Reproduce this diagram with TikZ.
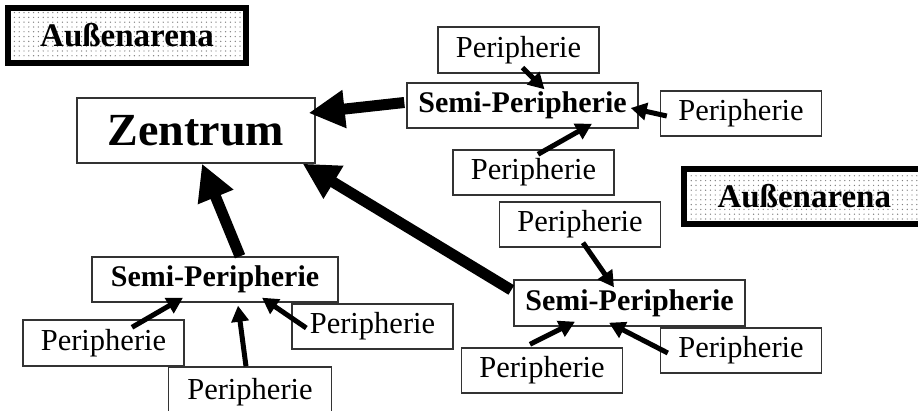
\documentclass[tikz,border=0pt]{standalone}
\usepackage{fontspec}
\setmainfont{Liberation Serif}
\usetikzlibrary{arrows.meta,calc,patterns.meta}
\begin{document}
\begin{tikzpicture}[x=1pt,y=-1pt,
  box/.style={draw=black!80, line width=1.4pt, inner sep=0pt, fill=white},
  per/.style={box, minimum width=161pt, minimum height=45pt, font=\fontsize{30.5}{30.5}\selectfont},
  semi/.style={box, minimum width=231pt, minimum height=45pt, font=\bfseries\fontsize{30}{30}\selectfont},
  aussen/.style={draw=black, line width=6pt, inner sep=0pt, minimum height=55pt,
    preaction={fill=white}, pattern={Dots[distance=4.8pt,radius=0.7pt]}, pattern color=black!50,
    font=\bfseries\fontsize{33}{33}\selectfont},
  big/.style={line width=11pt, -{Triangle[length=36pt,width=36pt]}},
  small/.style={line width=5pt, -{Triangle[length=16pt,width=17pt]}}]
\useasboundingbox (0,0) rectangle (918,411);

% Aussenarena boxes
\node[aussen, minimum width=238pt] (aus1) at (127,35.5) {Außenarena};
\node[aussen, minimum width=250pt, text width=230pt, align=left] (aus2) at (808.5,196.5) {\hspace*{24pt}Außenarena};

% Zentrum
\node[box, minimum width=238pt, minimum height=65pt, font=\bfseries\fontsize{46}{46}\selectfont] (zent) at (196,130.5) {Zentrum};

% top group
\node[semi] (sp1) at (522.5,105.5) {Semi-Peripherie};
\node[per, minimum height=46pt] (p1a) at (518.5,50) {Peripherie};
\node[per] (p1b) at (741,113.5) {Peripherie};
\node[per] (p1c) at (533.5,172.5) {Peripherie};

% bottom-left group
\node[semi, minimum width=246pt] (sp2) at (215,279.5) {Semi-Peripherie};
\node[per, minimum height=46pt] (p2a) at (103.5,343) {Peripherie};
\node[per] (p2b) at (372.5,326.5) {Peripherie};
\node[per, minimum width=163pt, minimum height=50pt] (p2c) at (250,392) {\raisebox{3pt}{Peripherie}};

% bottom-right group
\node[semi, minimum height=46pt] (sp3) at (629.5,303) {Semi-Peripherie};
\node[per] (p3a) at (580,224.5) {Peripherie};
\node[per] (p3b) at (542,370.5) {Peripherie};
\node[per] (p3c) at (741,350.5) {Peripherie};

% big arrows to Zentrum
\draw[big] ($(sp1.west)+(-2,-3)$) -- ($(zent.east)+(-7,-17.5)$);
\draw[big] ($(sp2.north)+(25,0)$) -- ($(zent.south)+(6,0)$);
\draw[big] ($(sp3.west)+(-2,-13)$) -- ($(zent.south east)+(-13,0)$);

% small arrows, top group
\draw[small] ($(p1a.south)+(4,-6)$) -- ($(sp1.north)+(22,7)$);
\draw[small] ($(p1b.west)+(7,2.5)$) -- ($(sp1.east)+(-8,2.5)$);
\draw[small] ($(p1c.north)+(4.5,5)$) -- ($(sp1.south)+(69.5,-5)$);

% small arrows, bottom-left group
\draw[small] ($(p2a.north)+(28.5,8)$) -- ($(sp2.south)+(-32,-5)$);
\draw[small] ($(p2c.north)+(-4,0)$) -- ($(sp2.south)+(23,3)$);
\draw[small] ($(p2b.west)+(15,1.5)$) -- ($(sp2.south)+(47,-5)$);

% small arrows, bottom-right group
\draw[small] ($(p3a.south)+(3,-5)$) -- ($(sp3.north)+(-15.5,8)$);
\draw[small] ($(p3b.north)+(-12,-3)$) -- ($(sp3.south)+(-54.5,-5)$);
\draw[small] ($(p3c.west)+(8,2.5)$) -- ($(sp3.south)+(-20.5,-4)$);
\end{tikzpicture}
\end{document}
